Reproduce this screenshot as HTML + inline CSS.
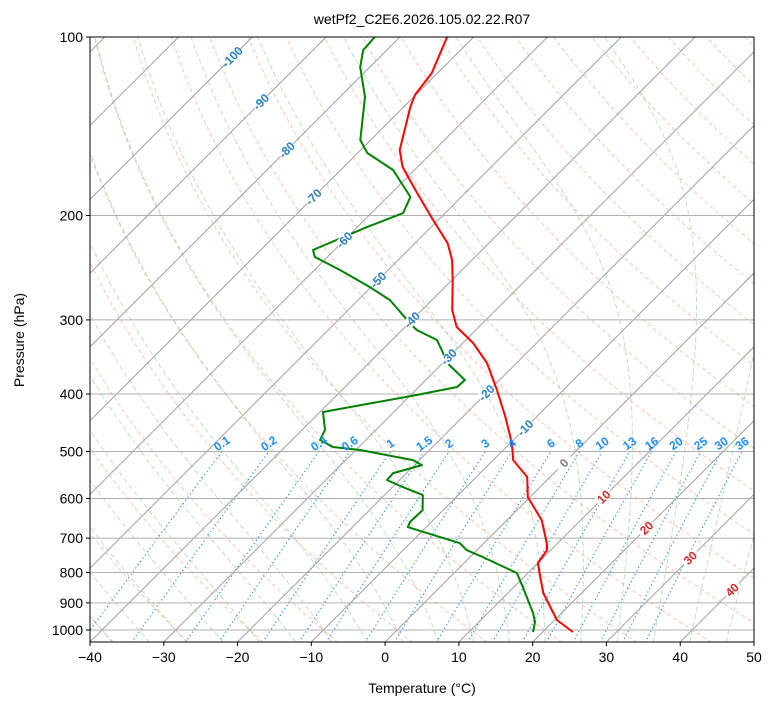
<!DOCTYPE html>
<html><head><meta charset="utf-8">
<style>
html,body{margin:0;padding:0;background:#fff;}
svg{display:block;font-family:"Liberation Sans","DejaVu Sans",sans-serif;}
</style></head>
<body>
<svg id="chart" width="775" height="708" viewBox="0 0 775 708" xmlns="http://www.w3.org/2000/svg">
<defs><clipPath id="plotclip"><rect x="90" y="37" width="664" height="605"/></clipPath></defs>
<rect width="775" height="708" fill="#fff"/>
<text x="422" y="24" text-anchor="middle" font-size="14">wetPf2_C2E6.2026.105.02.22.R07</text>
<g id="bg" clip-path="url(#plotclip)"></g>
<g id="traces" clip-path="url(#plotclip)"></g>
<g id="labels"></g>
<rect x="90" y="37" width="664" height="605" fill="none" stroke="#000" stroke-width="1"/>
<g id="axes"></g>
<text x="422" y="693" text-anchor="middle" font-size="14">Temperature (°C)</text>
<text transform="translate(24,340) rotate(-90)" text-anchor="middle" font-size="14">Pressure (hPa)</text>
</svg>
<script>
const tempPressure = [100,115,125.2,131.2,155.1,165.7,183.3,203.5,222.6,237.7,256.9,288.7,308.3,328.1,354.6,393.8,437.3,483.8,516.9,552.1,596.8,652.6,713.5,733.2,770.9,813.8,866.2,962.0,1007.9];
const tempValues = [-73.6,-70.8,-70.1,-69.1,-64.7,-62,-56.5,-50.7,-45.6,-42.7,-39.9,-35.9,-33,-28.6,-24,-19,-14.2,-9.8,-7.3,-3.1,-0.3,4.7,8.5,9.5,10,12.2,14.8,20.3,24.1];
const dewPressure = [100,105.2,112.4,126.2,149.2,156.9,167.6,186.1,198.1,209.2,228.7,235,247.2,264,277.7,303.6,312,324.3,337.2,354.6,378.8,389.3,401.6,428.9,459.8,478.1,491.3,497.1,516.9,527.1,543.7,558.5,574.1,592.2,627.7,657.6,670.5,686.3,713.5,733.2,753.1,801.3,846.2,935.7,969.4,1007.9];
const dewValues = [-83.4,-83.2,-81.3,-76.6,-71.4,-68.7,-62.9,-56.9,-55.7,-58.7,-62.9,-61.7,-56.5,-50.2,-45.7,-39.9,-38,-33.9,-31.9,-29.4,-24.7,-24.8,-29.2,-39.6,-36.9,-36.2,-33.5,-29.4,-20.9,-19,-21.8,-21.7,-18.6,-14.8,-12.8,-12.9,-12.5,-9.1,-3.3,-1.4,1.7,8.5,11.2,16.1,17.6,18.7];
const pressureTicks = [100,200,300,400,500,600,700,800,900,1000];
const tempTicks = [-40,-30,-20,-10,0,10,20,30,40,50];
const mixingRatios = [0.1,0.2,0.4,0.6,1,1.5,2,3,4,6,8,10,13,16,20,25,30,36];
const isothermLabels = [-100,-90,-80,-70,-60,-50,-40,-30,-20,-10,0,10,20,30,40];
const isoLabelY = [57,102,150,197,240,280,320,357,393,428,463,497,528,558,590];

const NS="http://www.w3.org/2000/svg";
const X0=90,X1=754,Y0=37,YB=642,SC=(X1-X0)/90;
function yP(p){return Y0+593*Math.log10(p/100);}
function xT(t,p){return X0+(t+40)*SC+(YB-yP(p));}
function mk(tag,attrs,parent){const e=document.createElementNS(NS,tag);for(const k in attrs)e.setAttribute(k,attrs[k]);parent.appendChild(e);return e;}
const bg=document.getElementById('bg'),tr=document.getElementById('traces'),lab=document.getElementById('labels'),ax=document.getElementById('axes');
function pathFrom(pts){return pts.map((q,i)=>(i?'L':'M')+q[0].toFixed(1)+' '+q[1].toFixed(1)).join(' ');}
const plev=[];for(let lp=Math.log(1050);lp>=Math.log(95);lp-=0.02)plev.push(Math.exp(lp));

for(let th=-50;th<=250;th+=10){
  const pts=plev.map(p=>[xT((th+273.15)*Math.pow(p/1000,0.2857)-273.15,p),yP(p)]);
  const e=mk('path',{d:pathFrom(pts),fill:'none',stroke:'#ff9a7a','stroke-opacity':0.6,'stroke-width':1,'stroke-dasharray':'4,3'},bg);
  
  
}
function es(t){return 6.112*Math.exp(17.67*t/(t+243.5));}
function dTdp(p,t){const T=t+273.15,rs=0.622*es(t)/(p-es(t)),Lv=2.501e6,Rd=287.04,Cp=1005.7;
  return (1/p)*(Rd*T+Lv*rs)/(Cp+Lv*Lv*rs*0.622/(Rd*T*T));}
for(let t0=-40;t0<=45;t0+=5){
  const up=[],dn=[];
  let t=t0,p=1000;
  while(p>95){up.push([xT(t,p),yP(p)]);const dp=-5;const k1=dTdp(p,t),k2=dTdp(p+dp/2,t+dp/2*k1);t+=dp*k2;p+=dp;}
  t=t0;p=1000;
  while(p<1055){dn.push([xT(t,p),yP(p)]);const dp=5;t+=dp*dTdp(p,t);p+=dp;}
  const pts=dn.reverse().concat(up);
  const e=mk('path',{d:pathFrom(pts),fill:'none',stroke:'#7fc47f','stroke-opacity':0.5,'stroke-width':1,'stroke-dasharray':'5,3'},bg);
  
  
}
mixingRatios.forEach(w=>{
  const pts=[];
  for(let p=1050;p>=500;p-=10){const e=w*p/(622+w),l=Math.log(e/6.112),td=243.5*l/(17.67-l);pts.push([xT(td,p),yP(p)]);}
  const e=mk('path',{d:pathFrom(pts),fill:'none',stroke:'#1e8fff','stroke-width':1.2,'stroke-dasharray':'1.2,2.8'},bg);
  
  
  const top=pts[pts.length-1];
  const t=mk('text',{x:top[0],y:top[1]-4,'text-anchor':'middle','font-size':12,'font-weight':'bold',fill:'#1e8fff',transform:'rotate(-35 '+top[0]+' '+(top[1]-8)+')'},lab);
  t.textContent=w;
  
  
});
for(let T=-160;T<=50;T+=10){
  const e=mk('line',{x1:xT(T,1050),y1:yP(1050),x2:xT(T,100),y2:yP(100),stroke:'#a0a0a0','stroke-width':1},bg);
  
  
}
pressureTicks.forEach(p=>{
  const e=mk('line',{x1:X0,x2:X1,y1:yP(p),y2:yP(p),stroke:'#b0b0b0','stroke-width':1},bg);
  
  
  const tk=mk('line',{x1:X0-4,x2:X0,y1:yP(p),y2:yP(p),stroke:'#000'},ax);
  
  
  const t=mk('text',{x:X0-7,y:yP(p)+5,'text-anchor':'end','font-size':14},ax);t.textContent=p;
  
  
});
tempTicks.forEach(T=>{
  const x=X0+(T+40)*SC;
  const tk=mk('line',{x1:x,x2:x,y1:YB,y2:YB+4,stroke:'#000'},ax);
  
  
  const t=mk('text',{x:x,y:YB+20,'text-anchor':'middle','font-size':14},ax);t.textContent=(T<0?'\u2212'+(-T):T);
  
  
});
isothermLabels.forEach((T,i)=>{
  const y=isoLabelY[i],x=X0+(T+40)*SC+(YB-y);
  const col=T<0?'#2a7fc0':(T===0?'#777':'#d62728');
  const r=mk('rect',{x:x-9,y:y-5,width:18,height:10,fill:'#fff',transform:'rotate(-45 '+x+' '+y+')'},lab);
  
  
  const t=mk('text',{x:x,y:y+4,'text-anchor':'middle','font-size':12,'font-weight':'bold',fill:col,transform:'rotate(-45 '+x+' '+y+')'},lab);
  t.textContent=T;
  
  
});
const tpath=mk('path',{d:pathFrom(tempPressure.map((p,i)=>[xT(tempValues[i],p),yP(p)])),fill:'none',stroke:'#ff0000','stroke-width':2,'stroke-linejoin':'round'},tr);


const dpath=mk('path',{d:pathFrom(dewPressure.map((p,i)=>[xT(dewValues[i],p),yP(p)])),fill:'none',stroke:'#008000','stroke-width':2,'stroke-linejoin':'round'},tr);


</script>
</body></html>
